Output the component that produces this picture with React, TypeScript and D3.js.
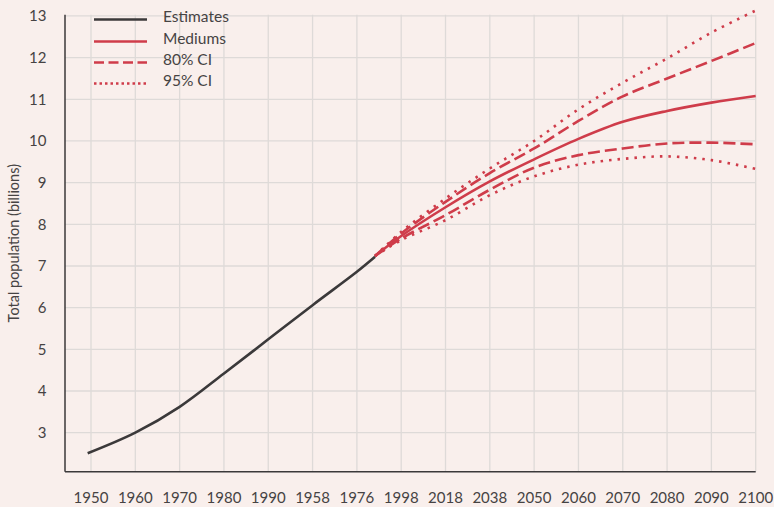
import React from "react";
import * as d3 from "d3";

const xTickLabels = ["1950","1960","1970","1980","1990","1958","1976","1998","2018","2038","2050","2060","2070","2080","2090","2100"];
const yTicks = [3,4,5,6,7,8,9,10,11,12,13];

// x positions are in tick-index units
const estX = [-0.075, 1, 2, 3, 4, 5, 6, 6.41];
const estY = [2.505, 3.0, 3.62, 4.42, 5.24, 6.06, 6.86, 7.22];

const projX = [6.41, 7, 8, 9, 10, 11, 12, 13, 14, 15];
const medium = [7.24, 7.72, 8.41, 9.03, 9.56, 10.05, 10.46, 10.72, 10.92, 11.08];
const upper80 = [7.24, 7.78, 8.54, 9.23, 9.82, 10.48, 11.07, 11.5, 11.92, 12.35];
const lower80 = [7.24, 7.66, 8.22, 8.83, 9.36, 9.66, 9.82, 9.94, 9.96, 9.92];
const upper95 = [7.24, 7.82, 8.62, 9.34, 10.0, 10.76, 11.4, 11.98, 12.6, 13.13];
const lower95 = [7.24, 7.62, 8.10, 8.70, 9.15, 9.43, 9.57, 9.63, 9.54, 9.33];

const legendItems = [
  { label: "Estimates", kind: "est" },
  { label: "Mediums", kind: "med" },
  { label: "80% CI", kind: "ci80" },
  { label: "95% CI", kind: "ci95" },
];

const W = 774, H = 507;
const left = 65, right = 755.7, top = 14.7, bottom = 471.7;
const RED = "#cf3c4a";
const DARK = "#3b393a";
const GRID = "#dedad8";
const TXT = "#464343";
const FONT = "Lato, 'Open Sans', sans-serif";

export default function App() {
  const x = d3.scaleLinear().domain([-0.5868, 15]).range([left, right]);
  const y = d3.scaleLinear().domain([2.064, 13.03]).range([bottom, top]);
  const line = (xs: number[], ys: number[]) =>
    d3.line<number>().x((_, i) => x(xs[i])).y((d) => y(d)).curve(d3.curveCatmullRom.alpha(0.5))(ys) || "";

  const styleFor = (kind: string) => {
    if (kind === "est") return { stroke: DARK, dash: undefined as string | undefined };
    if (kind === "med") return { stroke: RED, dash: undefined };
    if (kind === "ci80") return { stroke: RED, dash: "10,4.5" };
    return { stroke: RED, dash: "2.5,3" };
  };

  return (
    <svg width={W} height={H} style={{ position: "absolute", left: 0, top: 0, background: "#f9efec" }} fontFamily={FONT}>
      <rect x={0} y={0} width={W} height={H} fill="#f9efec" />
      {xTickLabels.map((_, i) => (
        <line key={"gx" + i} x1={x(i)} x2={x(i)} y1={top} y2={bottom} stroke={GRID} strokeWidth={1.3} />
      ))}
      {yTicks.map((t) => (
        <line key={"gy" + t} x1={left} x2={right} y1={y(t)} y2={y(t)} stroke={GRID} strokeWidth={1.3} />
      ))}
      <line x1={left} x2={left} y1={top} y2={bottom} stroke={DARK} strokeWidth={1.5} />
      <line x1={left} x2={right} y1={bottom} y2={bottom} stroke={DARK} strokeWidth={1.5} />
      {yTicks.map((t) => (
        <text key={"yl" + t} x={46.5} y={y(t)} dy="0.36em" textAnchor="end" fontSize={15} fill={TXT}>{t}</text>
      ))}
      {xTickLabels.map((l, i) => (
        <text key={"xl" + i} x={x(i)} y={502.5} textAnchor="middle" fontSize={15} fill={TXT}>{l}</text>
      ))}
      <text transform={`translate(19,${(top + bottom) / 2}) rotate(-90)`} textAnchor="middle" fontSize={14.5} fill={TXT}>Total population (billions)</text>

      <path d={line(projX, lower95)} fill="none" stroke={RED} strokeWidth={2.6} strokeDasharray="2.5,6" />
      <path d={line(projX, upper95)} fill="none" stroke={RED} strokeWidth={2.6} strokeDasharray="2.5,6" />
      <path d={line(projX, lower80)} fill="none" stroke={RED} strokeWidth={2.6} strokeDasharray="12,5" />
      <path d={line(projX, upper80)} fill="none" stroke={RED} strokeWidth={2.6} strokeDasharray="12,5" />
      <path d={line(projX, medium)} fill="none" stroke={RED} strokeWidth={2.6} />
      <path d={line(estX, estY)} fill="none" stroke={DARK} strokeWidth={2.6} />

      {legendItems.map((it, i) => {
        const s = styleFor(it.kind);
        const ly = [19.5, 41.5, 62.5, 83.5][i];
        return (
          <g key={it.label}>
            <line x1={94} x2={147} y1={ly} y2={ly} stroke={s.stroke} strokeWidth={2.6} strokeDasharray={s.dash} />
            <text x={163} y={ly} dy="0.15em" fontSize={15.5} fill={TXT}>{it.label}</text>
          </g>
        );
      })}
    </svg>
  );
}
